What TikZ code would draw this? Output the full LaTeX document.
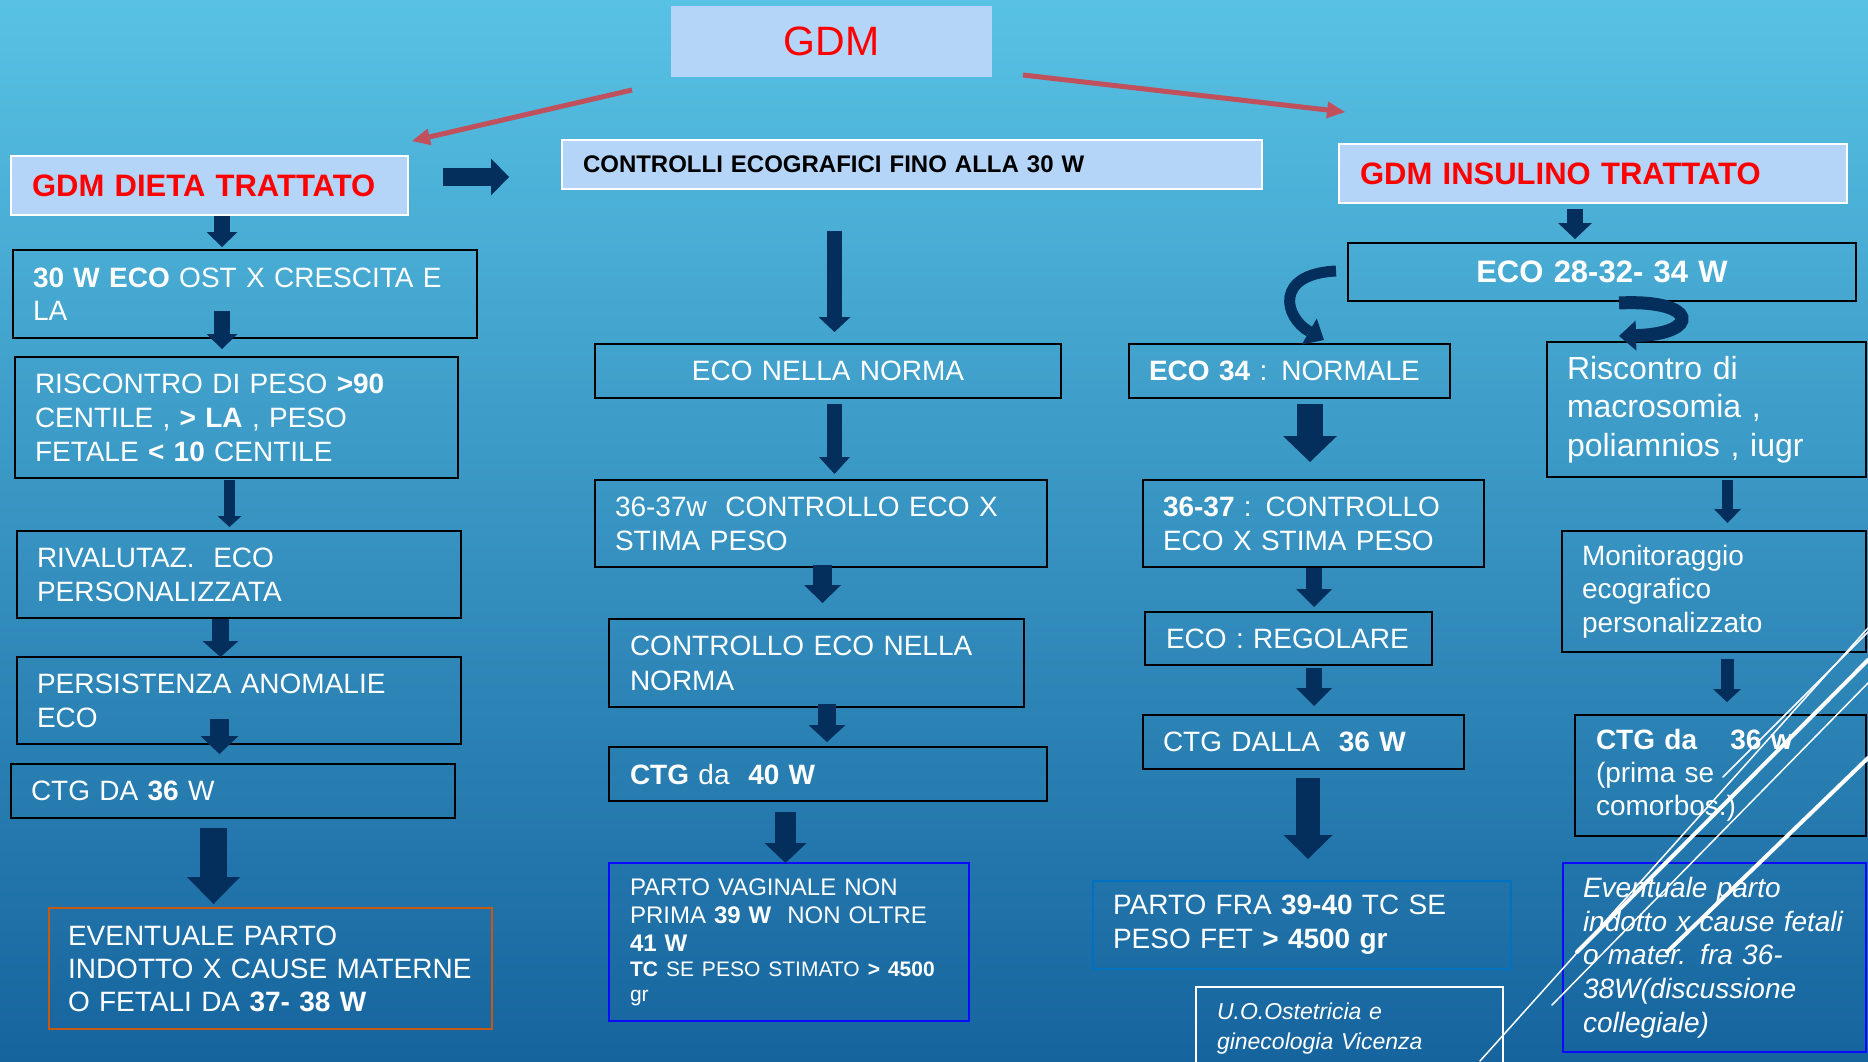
\documentclass[tikz,border=0pt]{standalone}
\usepackage{fontspec}
\setmainfont{Liberation Sans}
\usetikzlibrary{arrows.meta}
\definecolor{bgtop}{RGB}{88,194,228}
\definecolor{bgbot}{RGB}{22,100,158}
\definecolor{lightbox}{RGB}{180,212,248}
\definecolor{arrnavy}{RGB}{4,46,92}
\definecolor{redarr}{RGB}{192,80,92}
\definecolor{gdmred}{RGB}{255,0,0}
\definecolor{orangeb}{RGB}{197,90,17}
\definecolor{blueb}{RGB}{10,10,255}
\definecolor{partofb}{RGB}{0,112,192}
\tikzset{
 lbox/.style={fill=lightbox, draw=white, line width=2pt, inner ysep=0pt},
 bx/.style={draw=black, line width=2pt, text=white, inner xsep=20pt, inner ysep=0pt, align=left, font=\fontsize{28}{34}\selectfont},
 barr/.style n args={3}{draw=arrnavy, line width=#1pt, -{Triangle[width=#2pt,length=#3pt,line width=0pt]}},
 redarrow/.style={draw=redarr, line width=5pt, -{Triangle[width=17pt,length=18pt,line width=0pt]}},
 curvarr/.style={draw=arrnavy, line width=#1pt, -{Triangle[width=30pt,length=17pt,line width=0pt]}},
 deco/.style={draw=white, line width=#1pt, line cap=round},
}
\begin{document}
\begin{tikzpicture}[x=1pt,y=-1pt]
\useasboundingbox (0,0) rectangle (1868,1061);
\shade[top color=bgtop,bottom color=bgbot] (0,0) rectangle (1868,1061);

% top boxes
\node[lbox, draw=none, minimum width=321pt, minimum height=71pt, text=gdmred, font=\fontsize{41}{41}\selectfont] (gdm) at (831.5,41.5) {GDM};
\node[lbox, minimum height=59pt, text width=355pt, inner xsep=21pt, align=left, text=gdmred, font=\bfseries\fontsize{31}{31}\selectfont] (diet) at (209.5,185.5) {GDM DIETA TRATTATO};
\node[lbox, minimum height=49pt, text width=658pt, inner xsep=21pt, align=left, text=black, font=\bfseries\fontsize{24}{24}\selectfont] (ctrl) at (912,164.5) {CONTROLLI ECOGRAFICI FINO ALLA 30 W};
\node[lbox, minimum height=59pt, text width=466pt, inner xsep=21pt, align=left, text=gdmred, font=\bfseries\fontsize{31}{31}\selectfont] (ins) at (1593,173.5) {GDM INSULINO TRATTATO};
\node[bx, align=center, minimum height=58pt, text width=468pt, font=\bfseries\fontsize{31}{31}\selectfont] (eco) at (1602,272) {ECO 28-32- 34 W};

% left column
\node[bx, minimum height=88pt, text width=424pt, font=\fontsize{28}{33}\selectfont] (w30) at (245,294) {\textbf{30 W ECO} OST X CRESCITA E\\LA};
\node[bx, minimum height=121pt, text width=403pt] (riscL) at (236.5,417.5) {RISCONTRO DI PESO \textbf{>90}\\CENTILE , \textbf{> LA} , PESO\\FETALE \textbf{< 10} CENTILE};
\node[bx, minimum height=87pt, text width=404pt] (rival) at (239,574.5) {RIVALUTAZ.\ \ ECO\\PERSONALIZZATA};
\node[bx, minimum height=87pt, text width=404pt] (pers) at (239,700.5) {PERSISTENZA ANOMALIE\\ECO};
\node[bx, minimum height=54pt, text width=404pt] (ctgL) at (233,791) {CTG DA \textbf{36} W};
\node[bx, draw=orangeb, minimum height=121pt, inner xsep=19pt, text width=405pt, font=\fontsize{28}{33}\selectfont] (event) at (270.5,968.5) {EVENTUALE PARTO\\INDOTTO X CAUSE MATERNE\\O FETALI DA \textbf{37- 38 W}};

% middle column
\node[bx, align=center, minimum height=54pt, text width=426pt] (econn) at (828,371) {ECO NELLA NORMA};
\node[bx, minimum height=87pt, text width=412pt] (c37w) at (821,523.5) {36-37w\ \ CONTROLLO ECO X\\STIMA PESO};
\node[bx, minimum height=88pt, inner xsep=21pt, text width=373pt, font=\fontsize{28}{35}\selectfont] (cenn) at (816.5,663) {CONTROLLO ECO NELLA\\NORMA};
\node[bx, minimum height=54pt, inner xsep=21pt, text width=396pt] (ctg40) at (828,774) {\textbf{CTG} da\ \ \textbf{40 W}};
\node[bx, draw=blueb, minimum height=158pt, inner xsep=21pt, text width=318pt, font=\fontsize{24}{28}\selectfont] (partov) at (789,942) {PARTO VAGINALE NON\\PRIMA \textbf{39 W}\ \ NON OLTRE\\\textbf{41 W}\par{\fontsize{21}{25}\selectfont \textbf{TC} SE PESO STIMATO \textbf{> 4500}\\gr\par}};

% right-middle column
\node[bx, minimum height=54pt, text width=281pt] (eco34) at (1289.5,371) {\textbf{ECO 34} : NORMALE};
\node[bx, minimum height=87pt, text width=301pt] (c3637) at (1313.5,523.5) {\textbf{36-37} : CONTROLLO\\ECO X STIMA PESO};
\node[bx, minimum height=53pt, inner xsep=21pt, text width=245pt] (reg) at (1288.5,638.5) {ECO : REGOLARE};
\node[bx, minimum height=54pt, text width=281pt] (ctg36) at (1303.5,742) {CTG DALLA\ \ \textbf{36 W}};
\node[bx, draw=partofb, minimum height=88pt, text width=378pt] (partof) at (1302,925) {PARTO FRA \textbf{39-40} TC SE\\PESO FET \textbf{> 4500 gr}};
\node[draw=white, line width=2pt, text=white, anchor=north west, inner xsep=21pt, inner ysep=16pt, text width=265pt, align=left, font=\itshape\fontsize{23}{30}\selectfont] (uo) at (1195,986) {U.O.Ostetricia e\\ginecologia Vicenza};

% right column
\node[bx, minimum height=135pt, text width=279pt, font=\fontsize{32}{38.5}\selectfont] (riscR) at (1706.5,409.5) {Riscontro di\\macrosomia ,\\poliamnios , iugr};
\node[bx, minimum height=121pt, text width=264pt, font=\fontsize{28}{33.5}\selectfont] (mon) at (1714,591.5) {Monitoraggio\\ecografico\\personalizzato};
\node[bx, minimum height=121pt, inner xsep=21pt, text width=249pt, font=\fontsize{28}{33}\selectfont] (ctgR) at (1720.5,775.5) {\textbf{CTG da}\hspace{33pt}\textbf{36 w}\\(prima se\\comorbos.)};
\node[bx, draw=blueb, minimum height=189pt, text width=263pt, font=\itshape\fontsize{28}{33.75}\selectfont] (evR) at (1714.5,957.5) {Eventuale parto\\indotto x cause fetali\\o mater. fra 36-\\38W(discussione\\collegiale)};

% red arrows
\draw[redarrow] ([shift={(-38,12)}]gdm.south west) -- ([shift={(3,-14)}]diet.north east);
\draw[redarrow] ([shift={(30,-3)}]gdm.south east) -- ([shift={(7,-31)}]ins.north west);

% block arrows
\draw[barr={16}{31}{15}] ([shift={(12.5,0)}]diet.south) -- ([shift={(-23,-2)}]w30.north);
\draw[barr={16}{31}{15}] ([shift={(-23,-28)}]w30.south) -- ([shift={(-14.5,-7)}]riscL.north);
\draw[barr={11}{24}{11}] ([shift={(-7,1)}]riscL.south) -- ([shift={(-9.5,-3)}]rival.north);
\draw[barr={17}{36}{16}] ([shift={(-18.5,0)}]rival.south) -- ([shift={(-18.5,1)}]pers.north);
\draw[barr={19}{38}{18}] ([shift={(-19.5,-26)}]pers.south) -- ([shift={(-13.5,-9)}]ctgL.north);
\draw[barr={27}{53}{27}] ([shift={(-19.5,9)}]ctgL.south) -- ([shift={(-57,-3)}]event.north);
\draw[barr={18}{37}{18}] ([shift={(34,-8.5)}]diet.east) -- ([shift={(-52,12.5)}]ctrl.west);

\draw[barr={15}{32}{15}] ([shift={(-77.5,41)}]ctrl.south) -- ([shift={(6.5,-11)}]econn.north);
\draw[barr={15}{31}{17}] ([shift={(6.5,5)}]econn.south) -- ([shift={(13.5,-5)}]c37w.north);
\draw[barr={19}{37}{18}] ([shift={(1.5,-3)}]c37w.south) -- ([shift={(6,-15)}]cenn.north);
\draw[barr={18}{37}{17}] ([shift={(10.5,-4)}]cenn.south) -- ([shift={(-1,-4)}]ctg40.north);
\draw[barr={21}{42}{20}] ([shift={(-42.5,10)}]ctg40.south) -- ([shift={(-3.5,1)}]partov.north);

\draw[barr={16}{34}{16}] ([shift={(-18,5)}]ins.south) -- ([shift={(-27,-3)}]eco.north);
\draw[barr={26}{54}{26}] ([shift={(20.5,5)}]eco34.south) -- ([shift={(-3.5,-17)}]c3637.north);
\draw[barr={16}{36}{18}] ([shift={(0.5,0)}]c3637.south) -- ([shift={(25.5,-4)}]reg.north);
\draw[barr={16}{36}{18}] ([shift={(25.5,2)}]reg.south) -- ([shift={(10.5,-8)}]ctg36.north);
\draw[barr={24}{49}{24}] ([shift={(4.5,8)}]ctg36.south) -- ([shift={(6,-21)}]partof.north);

\draw[barr={11}{27}{14}] ([shift={(21,2)}]riscR.south) -- ([shift={(13.5,-7)}]mon.north);
\draw[barr={13}{28}{13}] ([shift={(13,6)}]mon.south) -- ([shift={(6.5,-12)}]ctgR.north);

% curved arrows
\draw[curvarr=11] ([shift={(-11,-1)}]eco.west) .. controls +(-62,3) and +(-40,-23) .. ([shift={(34.5,-3)}]eco34.north);
\draw[curvarr=13] ([shift={(17,1)}]eco.south) .. controls +(80,-4) and +(82,-2) .. ([shift={(-87.5,-5)}]riscR.north);

% decorative lines
\draw[deco=1.5] (1480,1061) -- (1868,628);
\draw[deco=1.5] (1723,777) -- (1868,632);
\draw[deco=4] (1577,952) -- (1868,660);
\draw[deco=1.5] (1552,1005) -- (1868,683);
\draw[deco=4] (1667,952) -- (1868,758);
\end{tikzpicture}
\end{document}
